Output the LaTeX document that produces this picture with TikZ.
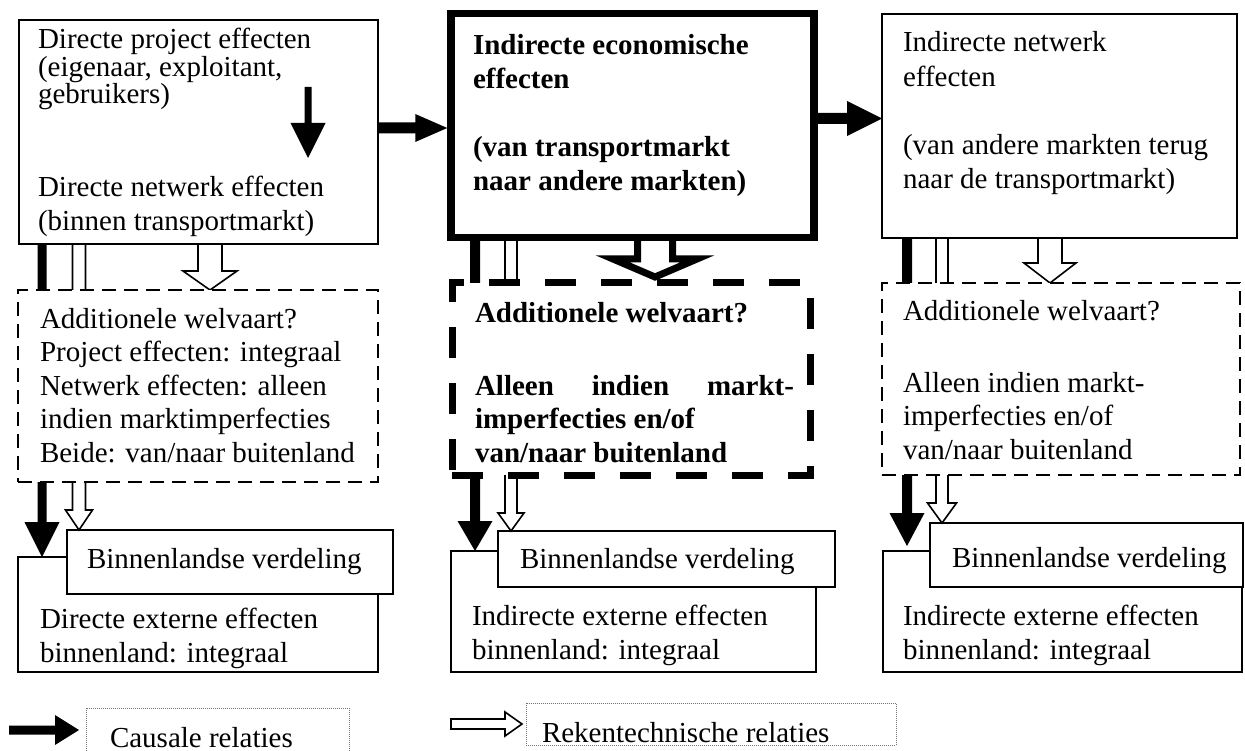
\documentclass[tikz,border=0pt]{standalone}
\usepackage{fontspec}
\setmainfont{Liberation Serif}
\usetikzlibrary{calc}
\newcommand\tstr{\rule{0pt}{25pt}}
% vertical arrow: style, start, tip, shaft half, head half, head length
\newcommand\varrow[6]{\path[#1] let \p1=#2, \p2=#3 in
  (\x1-#4pt,\y1) -- (\x1-#4pt,\y2+#6pt) -- (\x1-#5pt,\y2+#6pt) -- (\x1,\y2)
  -- (\x1+#5pt,\y2+#6pt) -- (\x1+#4pt,\y2+#6pt) -- (\x1+#4pt,\y1) -- cycle;}
% horizontal arrow (to the right)
\newcommand\harrow[6]{\path[#1] let \p1=#2, \p2=#3 in
  (\x1,\y1+#4pt) -- (\x2-#6pt,\y1+#4pt) -- (\x2-#6pt,\y1+#5pt) -- (\x2,\y1)
  -- (\x2-#6pt,\y1-#5pt) -- (\x2-#6pt,\y1-#4pt) -- (\x1,\y1-#4pt) -- cycle;}
\begin{document}
\begin{tikzpicture}[x=1pt,y=-1pt,
  thin/.style={draw, line width=1.6pt, fill=white, inner sep=0pt, outer sep=0pt, anchor=north west},
  thick/.style={thin, line width=7.5pt},
  dthin/.style={thin, dash pattern=on 14pt off 8pt},
  dthick/.style={thin, line width=7pt, dash pattern=on 31pt off 25pt},
  legbox/.style={thin, draw=black!55, line width=0.9pt, dash pattern=on 1pt off 1pt},
  txt/.style={inner sep=0pt, outer sep=0pt, anchor=north west, align=left, font=\fontsize{29}{33.5}\selectfont},
  txtb/.style={txt, font=\fontsize{29}{33.5}\selectfont\bfseries},
  causal/.style={fill=black},
  hollow/.style={draw, fill=white, line width=1.6pt, miter limit=10},
  hollowthick/.style={hollow, line width=7pt}]
\useasboundingbox (0,0) rectangle (1245,751);

% column x positions
\coordinate (xa1) at (42,0);  \coordinate (xh1) at (79,0);  \coordinate (xb1) at (210,0);
\coordinate (xa2) at (475,0); \coordinate (xh2) at (511,0); \coordinate (xb2) at (655,0);
\coordinate (xa3) at (907,0); \coordinate (xh3) at (942,0); \coordinate (xb3) at (1050,0);
\coordinate (ya1) at (0,128); \coordinate (ya2) at (0,118.5);

% bottom boxes
\node[thin, minimum width=360pt, minimum height=115pt] (e1) at (18,557) {};
\node[thin, minimum width=365pt, minimum height=121pt] (e2) at (451,551) {};
\node[thin, minimum width=359pt, minimum height=121pt] (e3) at (883,551) {};
\begin{scope}\clip (e1.north west) rectangle (e1.south east);
\node[txt, font=\fontsize{29}{34}\selectfont] (te1) at (40,603) {\tstr Directe externe effecten\\binnenland: integraal};
\end{scope}
\begin{scope}\clip (e2.north west) rectangle (e2.south east);
\node[txt, font=\fontsize{29}{34}\selectfont] (te2) at (472,600) {\tstr Indirecte externe effecten\\binnenland: integraal};
\end{scope}
\begin{scope}\clip (e3.north west) rectangle (e3.south east);
\node[txt, font=\fontsize{29}{34}\selectfont] (te3) at (903,600) {\tstr Indirecte externe effecten\\binnenland: integraal};
\end{scope}

% Binnenlandse verdeling boxes
\node[thin, minimum width=326pt, minimum height=64pt] (v1) at (67,530) {};
\node[thin, minimum width=337pt, minimum height=56pt] (v2) at (498,531) {};
\node[thin, minimum width=313pt, minimum height=64pt] (v3) at (930,523) {};
\node[txt] (tv1) at (87,543) {\tstr Binnenlandse verdeling};
\node[txt] (tv2) at (520,543) {\tstr Binnenlandse verdeling};
\node[txt] (tv3) at (952,542) {\tstr Binnenlandse verdeling};

% causal arrows down to bottom boxes, hollow arrows down to verdeling boxes
\coordinate (tip3) at ($(e3.north -| xa3)+(0,-5)$);
\varrow{causal}{(0,200 -| xa1)}{(e1.north)}{4.5}{17.5}{35}
\varrow{causal}{(0,200 -| xa2)}{(e2.north)}{5}{17.5}{30}
\varrow{causal}{(0,200 -| xa3)}{(tip3)}{5}{17.5}{33}
\varrow{hollow}{(0,200 -| xh1)}{(v1.north)}{6.5}{13.5}{20}
\varrow{hollow}{(0,200 -| xh2)}{(v2.north)}{6}{13}{18}
\varrow{hollow}{(0,200 -| xh3)}{(v3.north)}{6}{14.5}{20}

% big hollow arrows into dashed boxes
\varrow{hollow}{(0,200 -| xb1)}{(0,290)}{12}{27}{19}
\varrow{hollowthick}{(0,200 -| xb2)}{(0,277)}{17.5}{42}{18}
\varrow{hollow}{(0,200 -| xb3)}{(0,283)}{12}{26}{20}

% dashed boxes
\node[dthin, minimum width=360pt, minimum height=192pt] (d1) at (18,290) {};
\node[dthick, minimum width=358pt, minimum height=192pt] (d2) at (452,283) {};
\node[dthin, minimum width=358pt, minimum height=192pt] (d3) at (882,283) {};
\node[txt] (td1) at (40,303) {\tstr Additionele welvaart?\\Project effecten: integraal\\Netwerk effecten: alleen\\indien marktimperfecties\\Beide: van/naar buitenland};
\node[txtb] (td2a) at (475,298) {\tstr Additionele welvaart?};
\node[txtb] (td2b) at (475,370) {\tstr\makebox[319pt][s]{Alleen indien markt-}\\imperfecties en/of\\van/naar buitenland};
\node[txt] (td3a) at (903,295) {\tstr Additionele welvaart?};
\node[txt] (td3b) at (903,367) {\tstr Alleen indien markt-\\imperfecties en/of\\van/naar buitenland};

% horizontal causal arrows between top boxes
\coordinate (h1s) at (200,128); \coordinate (h2s) at (630,118.5);
\node[thick, minimum width=363pt, minimum height=224pt, fill=none, draw=none] (b2) at (451,13.5) {};
\node[thin, minimum width=355pt, minimum height=224pt, fill=none, draw=none] (b3) at (882,14) {};
\harrow{causal}{(h1s)}{($(b2.west |- ya1)+(-3.75,0)$)}{5.5}{14}{32}
\harrow{causal}{(h2s)}{(b3.west |- ya2)}{5.5}{17.5}{35}

% top boxes
\node[thin, minimum width=359pt, minimum height=224pt] (b1) at (19,20) {};
\node[thick, minimum width=363pt, minimum height=224pt] (b2) at (451,13.5) {};
\node[thin, minimum width=355pt, minimum height=224pt] (b3) at (882,14) {};
\node[txt, font=\fontsize{29}{26}\selectfont] (tb1a) at (38,24) {\tstr Directe project effecten\\(eigenaar, exploitant,\\gebruikers)};
\node[txt, font=\fontsize{29}{34}\selectfont] (tb1b) at (38,172) {\tstr Directe netwerk effecten\\(binnen transportmarkt)};
\node[txtb, font=\fontsize{29}{34}\selectfont\bfseries] (tb2a) at (473,30) {\tstr Indirecte economische\\effecten};
\node[txtb, font=\fontsize{29}{34}\selectfont\bfseries] (tb2b) at (473,132) {\tstr (van transportmarkt\\naar andere markten)};
\node[txt, font=\fontsize{29}{35}\selectfont] (tb3a) at (903,27) {\tstr Indirecte netwerk\\effecten};
\node[txt, font=\fontsize{29}{34}\selectfont] (tb3b) at (903,130) {\tstr (van andere markten terug\\naar de transportmarkt)};

% arrow inside first box
\coordinate (ia) at (308,87); \coordinate (ib) at (308,158);
\varrow{causal}{(ia)}{(ib)}{3.5}{17.5}{35}

% legend
\node[legbox, minimum width=263pt, minimum height=60pt] (l1) at (86,708) {};
\node[legbox, minimum width=370pt, minimum height=42pt] (l2) at (526,703) {};
\node[txt] (tl1) at (110,722) {\tstr Causale relaties};
\node[txt] (tl2) at (542,717) {\tstr Rekentechnische relaties};
\coordinate (la) at (9,730); \coordinate (lb) at (79,730);
\coordinate (lc) at (451,724); \coordinate (ld) at (522,724);
\harrow{causal}{(la)}{(lb)}{4.5}{15}{24}
\harrow{hollow}{(lc)}{(ld)}{5}{12}{17}
\end{tikzpicture}
\end{document}
